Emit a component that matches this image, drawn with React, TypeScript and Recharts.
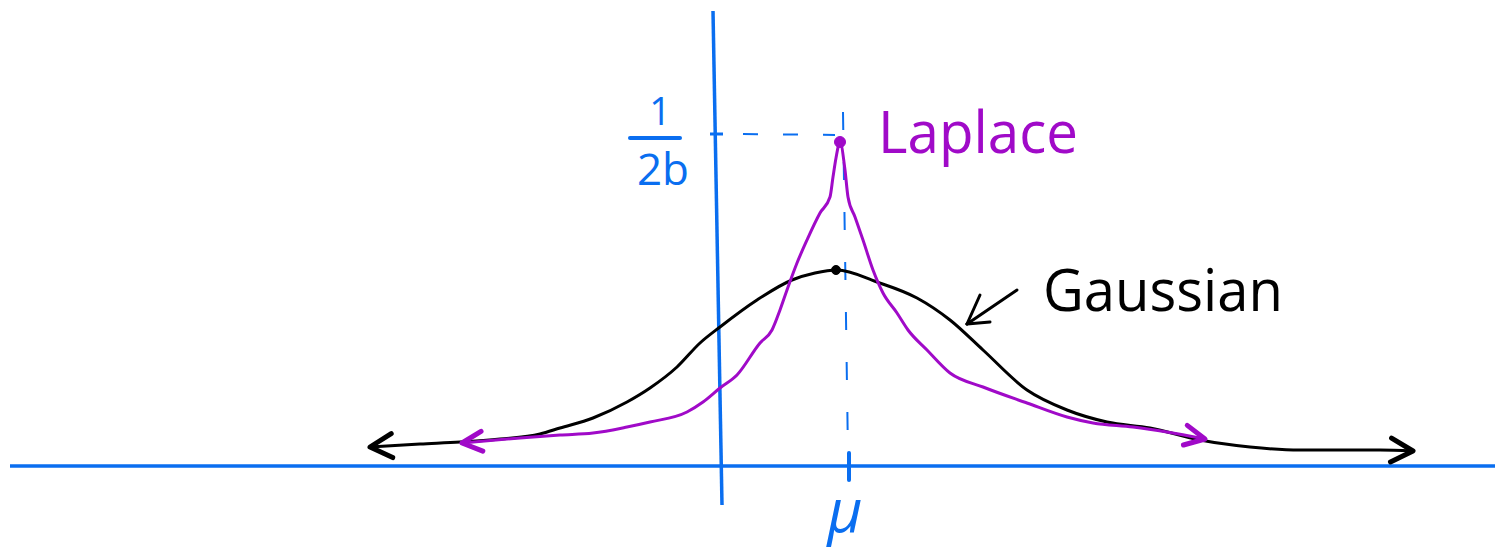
import { LineChart, Line, XAxis, YAxis, ReferenceLine, ReferenceDot } from "recharts";

const BLUE = "#0a6ef0";
const PURPLE = "#a00ac8";
const INK = "#000000";

// distance from the mean, and density (sketch units)
const gaussX = [-4.73, -4.23, -3.83, -3.43, -3.03, -2.83, -2.5, -2.16, -1.93, -1.66, -1.43, -1.23, -0.86, -0.51, -0.28, -0.06, 0.34, 0.74, 1.07, 1.4, 1.84, 2.24, 2.64, 3.07, 3.57, 4.07, 4.57, 5.37, 5.7];
const gaussY = [0.19, 0.22, 0.24, 0.27, 0.32, 0.38, 0.48, 0.64, 0.78, 0.99, 1.23, 1.39, 1.66, 1.86, 1.93, 1.96, 1.84, 1.68, 1.46, 1.16, 0.76, 0.56, 0.44, 0.38, 0.26, 0.19, 0.16, 0.16, 0.15];

const laplaceX = [-3.81, -3.23, -2.83, -2.5, -2.16, -1.93, -1.56, -1.4, -1.23, -1.06, -0.83, -0.71, -0.63, -0.56, -0.46, -0.36, -0.23, -0.13, -0.1, -0.07, -0.03, 0.02, 0.05, 0.12, 0.2, 0.3, 0.4, 0.54, 0.65, 0.84, 1.07, 1.4, 1.84, 2.24, 2.5, 2.9, 3.24, 3.62];
const laplaceY = [0.23, 0.28, 0.31, 0.33, 0.39, 0.44, 0.54, 0.64, 0.78, 0.91, 1.23, 1.36, 1.56, 1.76, 2.03, 2.26, 2.53, 2.69, 2.89, 3.08, 3.24, 2.96, 2.69, 2.49, 2.26, 1.96, 1.73, 1.53, 1.36, 1.16, 0.93, 0.79, 0.63, 0.49, 0.43, 0.39, 0.34, 0.27];

// peaks: mu and 1/(2b)
const laplacePeak = { x: -0.03, y: 3.24 };
const gaussPeak = { x: -0.07, y: 1.96 };

const gaussData = gaussX.map((x, i) => ({ x, y: gaussY[i] }));
const laplaceData = laplaceX.map((x, i) => ({ x, y: laplaceY[i] }));

const xDomain = [-8.43, 6.52];
const yDomain = [-0.86, 4.66];

const Word = ({ cx, cy, text, size, color, length, anchor = "start", italic = false }: any) => (
	<text
		x={cx}
		y={cy}
		fill={color}
		fontSize={size}
		fontFamily="'Open Sans', 'Noto Sans', sans-serif"
		fontStyle={italic ? "italic" : "normal"}
		textAnchor={anchor}
		textLength={length}
		lengthAdjust={length ? "spacingAndGlyphs" : undefined}
	>
		{text}
	</text>
);

const Chevron = ({ id, color, len, half }: any) => (
	<marker
		id={id}
		viewBox="-30 -20 40 40"
		refX={0}
		refY={0}
		markerWidth={40}
		markerHeight={40}
		markerUnits="userSpaceOnUse"
		orient="auto-start-reverse"
	>
		<path d={`M ${-len} ${-half} L 0 0 L ${-len} ${half}`} fill="none" stroke={color} strokeWidth={5} strokeLinecap="round" strokeLinejoin="round" />
	</marker>
);

const App = () => {
	return (
		<div style={{ position: "absolute", left: 0, top: 0, width: 1495, height: 552, background: "#fff" }}>
			<LineChart width={1495} height={552} margin={{ top: 0, right: 0, bottom: 0, left: 0 }}>
				<defs>
					<Chevron id="arrowInk" color={INK} len={22} half={12} />
					<Chevron id="arrowPurple" color={PURPLE} len={20} half={10} />
				</defs>
				<XAxis type="number" dataKey="x" domain={xDomain} allowDataOverflow hide />
				<YAxis type="number" dataKey="y" domain={yDomain} allowDataOverflow hide />

				{/* axes */}
				<ReferenceLine segment={[{ x: -8.33, y: 0 }, { x: 6.52, y: 0 }]} stroke={BLUE} strokeWidth={3.5} />
				<ReferenceLine segment={[{ x: -1.3, y: 4.55 }, { x: -1.21, y: -0.39 }]} stroke={BLUE} strokeWidth={3.5} />
				<ReferenceLine segment={[{ x: 0.06, y: 0.13 }, { x: 0.06, y: -0.14 }]} stroke={BLUE} strokeWidth={4} strokeLinecap="round" />
				<ReferenceLine segment={[{ x: -1.33, y: 3.32 }, { x: -1.2, y: 3.32 }]} stroke={BLUE} strokeWidth={3} />

				{/* guides to the Laplace peak */}
				<ReferenceLine segment={[{ x: -1.0, y: 3.32 }, { x: -0.08, y: 3.31 }]} stroke={BLUE} strokeWidth={2} strokeDasharray="15 25" />
				<ReferenceLine segment={[{ x: 0.0, y: 3.54 }, { x: 0.05, y: 0.11 }]} stroke={BLUE} strokeWidth={2} strokeDasharray="18 32" />

				<Line
					data={gaussData}
					dataKey="y"
					type="monotone"
					stroke={INK}
					strokeWidth={3}
					dot={false}
					activeDot={false}
					markerStart="url(#arrowInk)"
					markerEnd="url(#arrowInk)"
					isAnimationActive={false}
				/>
				<Line
					data={laplaceData}
					dataKey="y"
					type="monotone"
					stroke={PURPLE}
					strokeWidth={3}
					dot={false}
					activeDot={false}
					markerStart="url(#arrowPurple)"
					markerEnd="url(#arrowPurple)"
					isAnimationActive={false}
				/>

				<ReferenceDot x={laplacePeak.x} y={laplacePeak.y} r={5.5} fill={PURPLE} stroke={PURPLE} />
				<ReferenceDot x={gaussPeak.x} y={gaussPeak.y} r={4.5} fill={INK} stroke={INK} />

				{/* pointer to the Gaussian curve */}
				<ReferenceLine segment={[{ x: 1.74, y: 1.76 }, { x: 1.24, y: 1.42 }]} stroke={INK} strokeWidth={3} strokeLinecap="round" />
				<ReferenceLine segment={[{ x: 1.24, y: 1.42 }, { x: 1.37, y: 1.71 }]} stroke={INK} strokeWidth={3} strokeLinecap="round" />
				<ReferenceLine segment={[{ x: 1.24, y: 1.42 }, { x: 1.47, y: 1.44 }]} stroke={INK} strokeWidth={3} strokeLinecap="round" />

				{/* labels */}
				<ReferenceDot x={0.35} y={3.13} r={0} shape={(p: any) => <Word {...p} text="Laplace" size={58} color={PURPLE} length={200} />} />
				<ReferenceDot x={2.0} y={1.55} r={0} shape={(p: any) => <Word {...p} text="Gaussian" size={58} color={INK} length={240} />} />
				<ReferenceDot x={0.02} y={-0.66} r={0} shape={(p: any) => <Word {...p} text="μ" size={60} color={BLUE} anchor="middle" italic />} />
				<ReferenceDot x={-1.83} y={3.41} r={0} shape={(p: any) => <Word {...p} text="1" size={38} color={BLUE} anchor="middle" />} />
				<ReferenceLine segment={[{ x: -2.13, y: 3.28 }, { x: -1.63, y: 3.28 }]} stroke={BLUE} strokeWidth={4} strokeLinecap="round" />
				<ReferenceDot x={-1.8} y={2.81} r={0} shape={(p: any) => <Word {...p} text="2b" size={44} color={BLUE} anchor="middle" />} />
			</LineChart>
		</div>
	);
};

export default App;
